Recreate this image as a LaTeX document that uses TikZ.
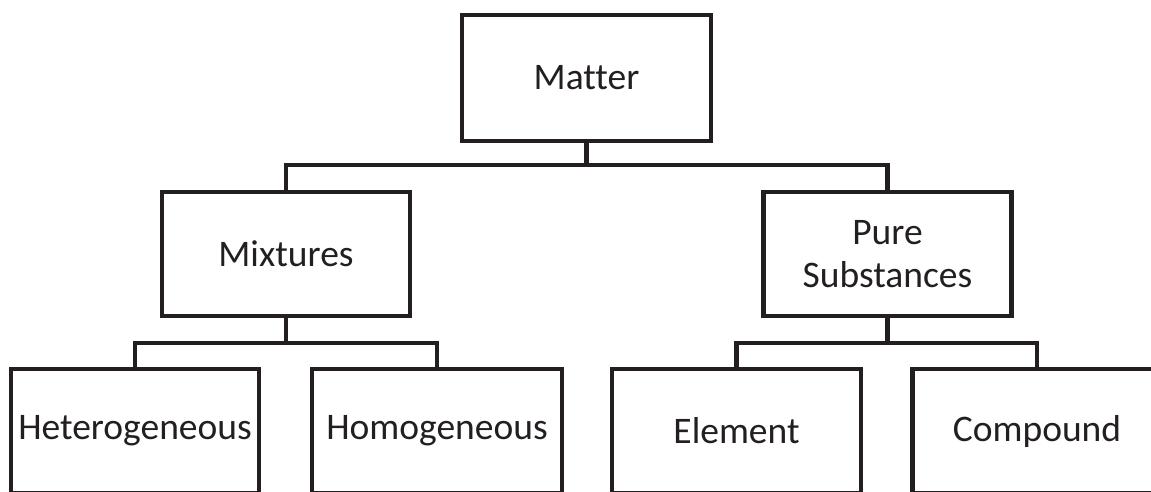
\documentclass[tikz,border=0pt]{standalone}
\usepackage{fontspec}
\setmainfont[Ligatures={NoCommon}]{Carlito}
\definecolor{ink}{HTML}{231F20}
\begin{document}
\begin{tikzpicture}[x=1pt,y=-1pt,
  box/.style={draw=ink, line width=4.5pt, rectangle, inner sep=0pt, outer sep=0pt,
    text=ink, align=center, font=\fontsize{37.5}{42.5}\selectfont},
  link/.style={draw=ink, line width=4.5pt}]
\useasboundingbox (0,0) rectangle (1151,491);
\clip (0,0) rectangle (1151,491);
% level 0
\node[box, minimum width=249pt, minimum height=126pt] (matter) at (586.5,78) {Matter};
% level 1
\node[box, minimum width=248pt, minimum height=124pt] (mix) at (286,254) {Mixtures};
\node[box, minimum width=248pt, minimum height=124pt] (pure) at (887.5,254) {Pure\\Substances};
% level 2
\node[box, minimum width=248pt, minimum height=124pt] (het) at (135,431) {Heterogeneous};
\node[box, minimum width=250pt, minimum height=124pt] (hom) at (437,431) {Homogeneous};
\node[box, minimum width=249pt, minimum height=124pt] (ele) at (736.5,431) {Element};
\node[box, minimum width=249pt, minimum height=124pt] (com) at (1037,431) {Compound};
% hubs
\coordinate (h0) at (586.5,165);
\coordinate (h1) at (286,343);
\coordinate (h2) at (887.5,343);
% connectors
\draw[link] (matter.south) -- (h0);
\draw[link] (mix.north) |- (h0) -| (pure.north);
\draw[link] (mix.south) -- (h1);
\draw[link] (het.north) |- (h1) -| (hom.north);
\draw[link] (pure.south) -- (h2);
\draw[link] (ele.north) |- (h2) -| (com.north);
\end{tikzpicture}
\end{document}
